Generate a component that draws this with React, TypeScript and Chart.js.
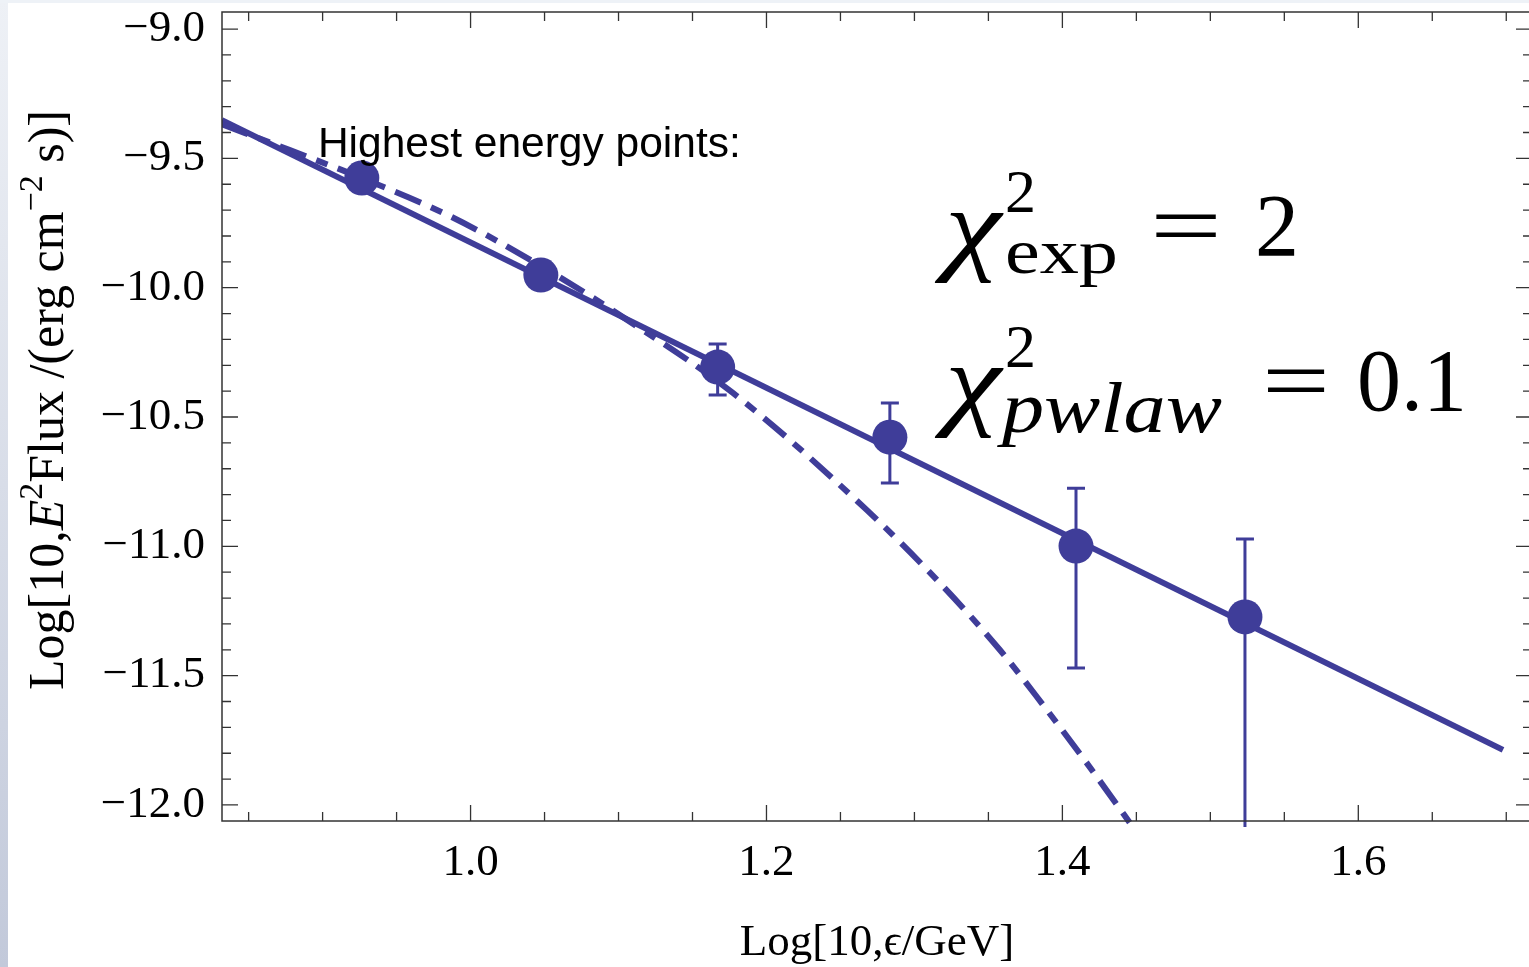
import { useEffect, useRef } from 'react';
import { Chart, registerables } from 'chart.js';

Chart.register(...registerables);

// Measured spectral points: log10(E / GeV) and log10(E^2 Flux)
const energyLog = [0.9265, 1.0475, 1.167, 1.2834, 1.4092, 1.5234];
const fluxLog = [-9.576, -9.951, -10.307, -10.578, -10.999, -11.273];
const fluxLogHigh = [-9.556, -9.925, -10.218, -10.446, -10.775, -10.972];
const fluxLogLow = [-9.596, -9.977, -10.415, -10.755, -11.47, -12.3];

// Power-law fit (straight in log-log)
const pwlawX = [0.8319, 1.6978];
const pwlawY = [-9.352, -11.787];

// Power law with exponential cutoff
const expCutX = [0.8319, 0.8779, 0.9265, 0.986, 1.0475, 1.1009, 1.1773, 1.2679, 1.3172, 1.3578, 1.3869, 1.4139, 1.4409, 1.4524];
const expCutY = [-9.368, -9.468, -9.576, -9.723, -9.916, -10.106, -10.407, -10.86, -11.142, -11.401, -11.613, -11.818, -12.031, -12.124];

// Axis ticks
const xTickValues = [1.0, 1.2, 1.4, 1.6];
const yTickValues = [-12.0, -11.5, -11.0, -10.5, -10.0, -9.5, -9.0];
const xMinorStep = 0.05;
const yMinorStep = 0.1;

const X_MIN = 0.832;
const X_MAX = 1.7174;
const Y_MIN = -12.062;
const Y_MAX = -8.934;

const MARK = '#3f3d99';
const FRAME = '#333333';
const SERIF = "'Liberation Serif', 'Times New Roman', serif";
const SANS = "'Liberation Sans', Arial, sans-serif";

// Text anchors in data coordinates
const noteAnchor = { x: 0.8968, y: -9.495 };
const chiAnchorX = 1.3206;
const chiExpY = -9.874;
const chiPwY = -10.473;

const fmt = (v: number) => (v < 0 ? '\u2212' : '') + Math.abs(v).toFixed(1);

type Run = { t: string; font: string; dy?: number };

function runsWidth(ctx: CanvasRenderingContext2D, runs: Run[]) {
  let w = 0;
  for (const r of runs) {
    ctx.font = r.font;
    w += ctx.measureText(r.t).width;
  }
  return w;
}

function drawRuns(ctx: CanvasRenderingContext2D, runs: Run[], x: number, y: number) {
  let cx = x;
  for (const r of runs) {
    ctx.font = r.font;
    ctx.fillText(r.t, cx, y + (r.dy ?? 0));
    cx += ctx.measureText(r.t).width;
  }
}

// Draws text widened horizontally to a given overall width
function drawStretched(ctx: CanvasRenderingContext2D, text: string, x: number, y: number, font: string, width: number) {
  ctx.save();
  ctx.font = font;
  const natural = ctx.measureText(text).width;
  ctx.translate(x, y);
  ctx.scale(width / natural, 1);
  ctx.fillText(text, 0, 0);
  ctx.restore();
}

function minorValues(min: number, max: number, step: number) {
  const out: number[] = [];
  for (let k = Math.ceil(min / step - 1e-9); k <= Math.floor(max / step + 1e-9); k++) out.push(k * step);
  return out;
}

const isMajor = (v: number, majors: number[]) => majors.some((m) => Math.abs(m - v) < 1e-6);

const errorBarPlugin = {
  id: 'errorBars',
  beforeDatasetsDraw(chart: any) {
    const { ctx, chartArea: a, scales } = chart;
    const x = scales.x;
    const y = scales.y;
    ctx.save();
    ctx.beginPath();
    ctx.rect(a.left, a.top, a.right - a.left, a.bottom - a.top + 6);
    ctx.clip();
    ctx.strokeStyle = MARK;
    ctx.lineWidth = 3;
    energyLog.forEach((e, i) => {
      const px = x.getPixelForValue(e);
      const hi = y.getPixelForValue(fluxLogHigh[i]);
      const lo = y.getPixelForValue(fluxLogLow[i]);
      ctx.beginPath();
      ctx.moveTo(px, hi);
      ctx.lineTo(px, lo);
      ctx.moveTo(px - 9, hi);
      ctx.lineTo(px + 9, hi);
      ctx.moveTo(px - 9, lo);
      ctx.lineTo(px + 9, lo);
      ctx.stroke();
    });
    ctx.restore();
  },
};

const framePlugin = {
  id: 'frameAndText',
  afterDraw(chart: any) {
    const { ctx, chartArea: a, scales } = chart;
    const x = scales.x;
    const y = scales.y;
    ctx.save();

    // frame
    ctx.strokeStyle = FRAME;
    ctx.lineWidth = 1.5;
    ctx.strokeRect(a.left, a.top, a.right - a.left, a.bottom - a.top);

    // inward ticks on all four sides
    ctx.lineWidth = 1.3;
    ctx.beginPath();
    for (const v of minorValues(X_MIN, X_MAX, xMinorStep)) {
      const px = x.getPixelForValue(v);
      const len = isMajor(v, xTickValues) ? 16 : 9;
      ctx.moveTo(px, a.bottom);
      ctx.lineTo(px, a.bottom - len);
      ctx.moveTo(px, a.top);
      ctx.lineTo(px, a.top + len);
    }
    for (const v of minorValues(Y_MIN, Y_MAX, yMinorStep)) {
      const py = y.getPixelForValue(v);
      const len = isMajor(v, yTickValues) ? 16 : 9;
      ctx.moveTo(a.left, py);
      ctx.lineTo(a.left + len, py);
      ctx.moveTo(a.right, py);
      ctx.lineTo(a.right - len, py);
    }
    ctx.stroke();

    ctx.fillStyle = '#000';
    ctx.textBaseline = 'alphabetic';
    ctx.textAlign = 'left';

    // x-axis title
    const xTitle = 'Log[10,\u03F5/GeV]';
    ctx.font = `45px ${SERIF}`;
    const xtw = ctx.measureText(xTitle).width;
    ctx.fillText(xTitle, (a.left + a.right) / 2 - xtw / 2, 955);

    // y-axis title (rotated)
    const big = `50px ${SERIF}`;
    const sup = `34px ${SERIF}`;
    const yRuns: Run[] = [
      { t: 'Log[10,', font: big },
      { t: 'E', font: `italic 50px ${SERIF}` },
      { t: '2', font: sup, dy: -21 },
      { t: 'Flux /(erg cm', font: big },
      { t: '\u22122', font: sup, dy: -21 },
      { t: ' s)]', font: big },
    ];
    const ytw = runsWidth(ctx, yRuns);
    ctx.save();
    ctx.translate(63, 400);
    ctx.rotate(-Math.PI / 2);
    drawRuns(ctx, yRuns, -ytw / 2, 0);
    ctx.restore();

    // note
    ctx.font = `42.5px ${SANS}`;
    ctx.fillText('Highest energy points:', x.getPixelForValue(noteAnchor.x), y.getPixelForValue(noteAnchor.y));

    // chi-square labels
    const cx = x.getPixelForValue(chiAnchorX);
    const l1 = y.getPixelForValue(chiExpY);
    const l2 = y.getPixelForValue(chiPwY);
    const chiFont = `italic 104px ${SERIF}`;
    const numFont = `88px ${SERIF}`;
    const supFont = `62px ${SERIF}`;

    drawStretched(ctx, '\u03C7', cx, l1 + 6, chiFont, 56);
    ctx.font = supFont;
    ctx.fillText('2', cx + 60, l1 - 43);
    drawStretched(ctx, 'exp', cx + 60, l1 + 18, `64px ${SERIF}`, 113);
    drawStretched(ctx, '=', cx + 205, l1, numFont, 72);
    ctx.font = numFont;
    ctx.fillText('2', cx + 310, l1);

    drawStretched(ctx, '\u03C7', cx, l2 + 6, chiFont, 56);
    ctx.font = supFont;
    ctx.fillText('2', cx + 60, l2 - 43);
    drawStretched(ctx, 'pwlaw', cx + 57, l2 + 22, `italic 72px ${SERIF}`, 220);
    drawStretched(ctx, '=', cx + 317, l2, numFont, 68);
    ctx.font = numFont;
    ctx.fillText('0.1', cx + 412, l2);

    ctx.restore();
  },
};

export default function App() {
  const ref = useRef<HTMLCanvasElement>(null);

  useEffect(() => {
    const canvas = ref.current;
    if (!canvas) return;

    const tickFont = { family: SERIF, size: 45 };
    const chart = new Chart(canvas, {
      type: 'scatter',
      data: {
        datasets: [
          {
            label: 'data',
            data: energyLog.map((e, i) => ({ x: e, y: fluxLog[i] })),
            backgroundColor: MARK,
            borderColor: MARK,
            borderWidth: 0,
            pointRadius: 17.5,
            pointStyle: 'circle',
          },
          {
            type: 'line',
            label: 'exp',
            data: expCutX.map((e, i) => ({ x: e, y: expCutY[i] })),
            borderColor: MARK,
            borderWidth: 6,
            borderDash: [28, 11, 12, 11],
            pointRadius: 0,
            fill: false,
            cubicInterpolationMode: 'monotone',
            clip: { left: 0, top: 0, right: 0, bottom: 6 },
          } as any,
          {
            type: 'line',
            label: 'pwlaw',
            data: pwlawX.map((e, i) => ({ x: e, y: pwlawY[i] })),
            borderColor: MARK,
            borderWidth: 6,
            pointRadius: 0,
            fill: false,
            clip: { left: 0, top: 0, right: 0, bottom: 6 },
          } as any,
        ],
      },
      options: {
        responsive: false,
        animation: false,
        events: [],
        layout: { autoPadding: false, padding: { left: 0, top: 12, right: 13, bottom: 0 } },
        plugins: { legend: { display: false }, tooltip: { enabled: false } },
        scales: {
          x: {
            type: 'linear',
            min: X_MIN,
            max: X_MAX,
            grid: { display: false, drawTicks: false },
            border: { display: false },
            ticks: { padding: 15, color: '#000', font: tickFont, callback: (v: any) => fmt(Number(v)) },
            afterBuildTicks: (s: any) => {
              s.ticks = xTickValues.map((v) => ({ value: v }));
            },
            afterFit: (s: any) => {
              s.height = 146;
              s.paddingLeft = 0;
              s.paddingRight = 0;
            },
          },
          y: {
            type: 'linear',
            min: Y_MIN,
            max: Y_MAX,
            grid: { display: false, drawTicks: false },
            border: { display: false },
            ticks: { padding: 17, color: '#000', font: tickFont, callback: (v: any) => fmt(Number(v)) },
            afterBuildTicks: (s: any) => {
              s.ticks = yTickValues.map((v) => ({ value: v }));
            },
            afterFit: (s: any) => {
              s.width = 222;
              s.paddingTop = 0;
              s.paddingBottom = 0;
            },
          },
        },
      } as any,
      plugins: [errorBarPlugin, framePlugin],
    });

    return () => chart.destroy();
  }, []);

  return (
    <div style={{ position: 'fixed', left: 0, top: 0, width: 1529, height: 967, overflow: 'hidden', background: '#ffffff' }}>
      <div style={{ position: 'absolute', left: 0, top: 0, width: 8, height: 967, background: 'linear-gradient(#eef1f6, #c2c9da)' }} />
      <div style={{ position: 'absolute', left: 0, top: 0, width: 1529, height: 3, background: '#eef2f7' }} />
      <canvas ref={ref} width={1545} height={967} style={{ position: 'absolute', left: 0, top: 0, width: 1545, height: 967 }} />
    </div>
  );
}
